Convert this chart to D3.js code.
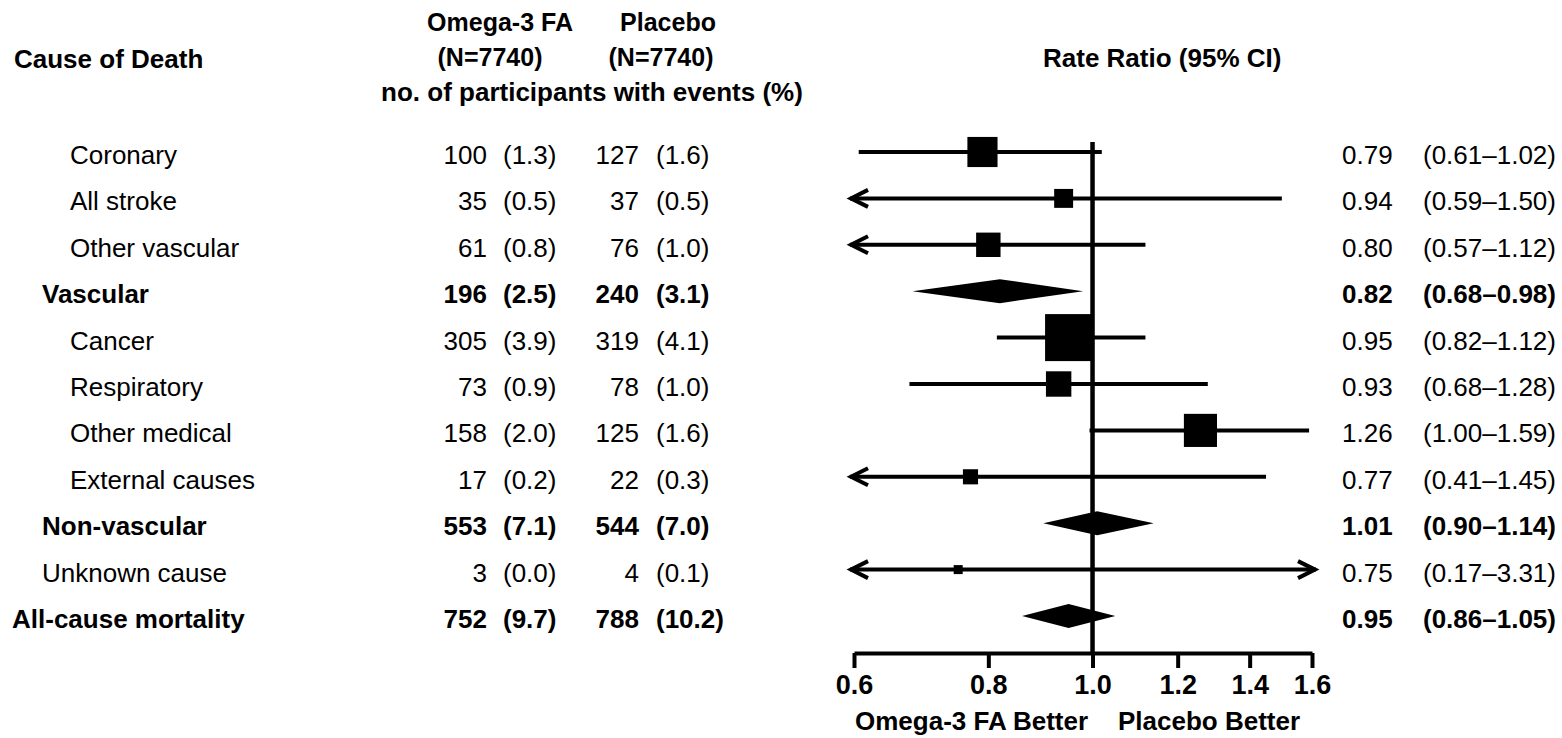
<!DOCTYPE html>
<html>
<head>
<meta charset="utf-8">
<script src="https://d3js.org/d3.v7.min.js"></script>
<style>
  body { margin: 0; background: #fff; }
  text { font-family: Arial, "Liberation Sans", sans-serif; fill: #000; }
  .b { font-weight: bold; }
</style>
</head>
<body>
<div id="chart"></div>
<script>
// data
causes = ["Coronary", "All stroke", "Other vascular", "Vascular", "Cancer", "Respiratory",
          "Other medical", "External causes", "Non-vascular", "Unknown cause", "All-cause mortality"]
rowType = ["sub", "sub", "sub", "summary", "sub", "sub", "sub", "sub", "summary", "single", "overall"]
omegaN = [100, 35, 61, 196, 305, 73, 158, 17, 553, 3, 752]
omegaPct = ["1.3", "0.5", "0.8", "2.5", "3.9", "0.9", "2.0", "0.2", "7.1", "0.0", "9.7"]
placeboN = [127, 37, 76, 240, 319, 78, 125, 22, 544, 4, 788]
placeboPct = ["1.6", "0.5", "1.0", "3.1", "4.1", "1.0", "1.6", "0.3", "7.0", "0.1", "10.2"]
rr = [0.79, 0.94, 0.80, 0.82, 0.95, 0.93, 1.26, 0.77, 1.01, 0.75, 0.95]
lower = [0.61, 0.59, 0.57, 0.68, 0.82, 0.68, 1.00, 0.41, 0.90, 0.17, 0.86]
upper = [1.02, 1.50, 1.12, 0.98, 1.12, 1.28, 1.59, 1.45, 1.14, 3.31, 1.05]
ticks = [0.6, 0.8, 1.0, 1.2, 1.4, 1.6]

width = 1562
height = 738

rows = causes.map((c, i) => ({
  cause: c, type: rowType[i], i: i,
  on: omegaN[i], op: omegaPct[i], pn: placeboN[i], pp: placeboPct[i],
  rr: rr[i], lo: lower[i], hi: upper[i]
}))

svg = d3.select('#chart')
  .append('svg')
  .attr('width', width)
  .attr('height', height)

x = d3.scaleLog().domain([0.6, 1.6]).range([854, 1312])
y = d3.scalePoint().domain(d3.range(rows.length)).range([152, 616])
size = d3.scaleSqrt().domain([0, 624]).range([4.5, 47])
labelX = {sub: 70, summary: 42, single: 42, overall: 12}
isBold = d => d.type == "summary" || d.type == "overall"

// headers
hdr = svg.append('g').attr('class', 'b').style('font-size', '26px')
hdr.append('text').attr('x', 14).attr('y', 68).text('Cause of Death')
hdr.append('text').attr('x', 500).attr('y', 31).attr('text-anchor', 'middle').style('font-size', '25px').text('Omega-3 FA')
hdr.append('text').attr('x', 668).attr('y', 31).attr('text-anchor', 'middle').style('font-size', '25px').text('Placebo')
hdr.append('text').attr('x', 490).attr('y', 66).attr('text-anchor', 'middle').style('font-size', '25px').text('(N=7740)')
hdr.append('text').attr('x', 661).attr('y', 66).attr('text-anchor', 'middle').style('font-size', '25px').text('(N=7740)')
hdr.append('text').attr('x', 592).attr('y', 101).attr('text-anchor', 'middle').text('no. of participants with events (%)')
hdr.append('text').attr('x', 1043).attr('y', 67).text('Rate Ratio (95% CI)')

// table text
row = svg.selectAll('g.row')
  .data(rows)
  .enter().append('g')
  .attr('class', d => isBold(d) ? 'row b' : 'row')
  .style('font-size', '26px')
  .attr('transform', d => 'translate(0,' + (y(d.i) + 12) + ')')

row.append('text').attr('x', d => labelX[d.type]).text(d => d.cause)
row.append('text').attr('x', 487).attr('text-anchor', 'end').text(d => d.on)
row.append('text').attr('x', 503).text(d => '(' + d.op + ')')
row.append('text').attr('x', 639).attr('text-anchor', 'end').text(d => d.pn)
row.append('text').attr('x', 656).text(d => '(' + d.pp + ')')
row.append('text').attr('x', 1342).text(d => d.rr.toFixed(2))
row.append('text').attr('x', 1423).text(d => '(' + d.lo.toFixed(2) + '\u2013' + d.hi.toFixed(2) + ')')

// reference line at 1.0
svg.append('line')
  .attr('x1', x(1)).attr('x2', x(1))
  .attr('y1', 142).attr('y2', 653)
  .attr('stroke', '#000').attr('stroke-width', 4.5)

// CI lines for non-summary rows
plain = rows.filter(d => d.type == "sub" || d.type == "single")
lo0 = x.domain()[0], hi0 = x.domain()[1]

svg.selectAll('line.ci')
  .data(plain)
  .enter().append('line')
  .attr('class', 'ci')
  .attr('x1', d => d.lo < lo0 ? x(lo0) - 4 : x(d.lo) - 3)
  .attr('x2', d => d.hi > hi0 ? x(hi0) + 4 : x(d.hi))
  .attr('y1', d => y(d.i)).attr('y2', d => y(d.i))
  .attr('stroke', '#000').attr('stroke-width', 4)

// arrows where the interval runs off the axis
svg.selectAll('path.arrowL')
  .data(plain.filter(d => d.lo < lo0))
  .enter().append('path')
  .attr('d', d => {
    tx = x(lo0) - 3, ty = y(d.i)
    return 'M' + (tx + 17) + ',' + (ty - 8.5) + 'L' + tx + ',' + ty + 'L' + (tx + 17) + ',' + (ty + 8.5)
  })
  .attr('fill', 'none').attr('stroke', '#000').attr('stroke-width', 4)

svg.selectAll('path.arrowR')
  .data(plain.filter(d => d.hi > hi0))
  .enter().append('path')
  .attr('d', d => {
    tx = x(hi0) + 3, ty = y(d.i)
    return 'M' + (tx - 17) + ',' + (ty - 8.5) + 'L' + tx + ',' + ty + 'L' + (tx - 17) + ',' + (ty + 8.5)
  })
  .attr('fill', 'none').attr('stroke', '#000').attr('stroke-width', 4)

// squares sized by total events
svg.selectAll('rect.pt')
  .data(plain)
  .enter().append('rect')
  .attr('class', 'pt')
  .attr('x', d => x(d.rr) - size(d.on + d.pn) / 2)
  .attr('y', d => y(d.i) - size(d.on + d.pn) / 2)
  .attr('width', d => size(d.on + d.pn))
  .attr('height', d => size(d.on + d.pn))
  .attr('fill', '#000')

// diamonds for pooled rows
svg.selectAll('path.dia')
  .data(rows.filter(d => d.type == "summary" || d.type == "overall"))
  .enter().append('path')
  .attr('d', d => {
    cy = y(d.i)
    return 'M' + x(d.lo) + ',' + cy + 'L' + x(d.rr) + ',' + (cy - 12) +
      'L' + x(d.hi) + ',' + cy + 'L' + x(d.rr) + ',' + (cy + 12) + 'Z'
  })
  .attr('fill', '#000')

// axis
axis = svg.append('g')
  .attr('transform', 'translate(0,653)')
  .call(d3.axisBottom(x).tickValues(ticks).tickSize(15).tickSizeOuter(0).tickPadding(7)
    .tickFormat(d3.format('.1f')))
axis.select('.domain').attr('stroke-width', 4).attr('stroke', '#000')
axis.selectAll('.tick line').attr('stroke-width', 4).attr('stroke', '#000')
axis.selectAll('.tick text')
  .attr('class', 'b')
  .style('font-size', '27px')
  .attr('font-family', null)
  .attr('fill', '#000')

foot = svg.append('g').attr('class', 'b').style('font-size', '26px')
foot.append('text').attr('x', 855).attr('y', 730).text('Omega-3 FA Better')
foot.append('text').attr('x', 1118).attr('y', 730).text('Placebo Better')
</script>
</body>
</html>
